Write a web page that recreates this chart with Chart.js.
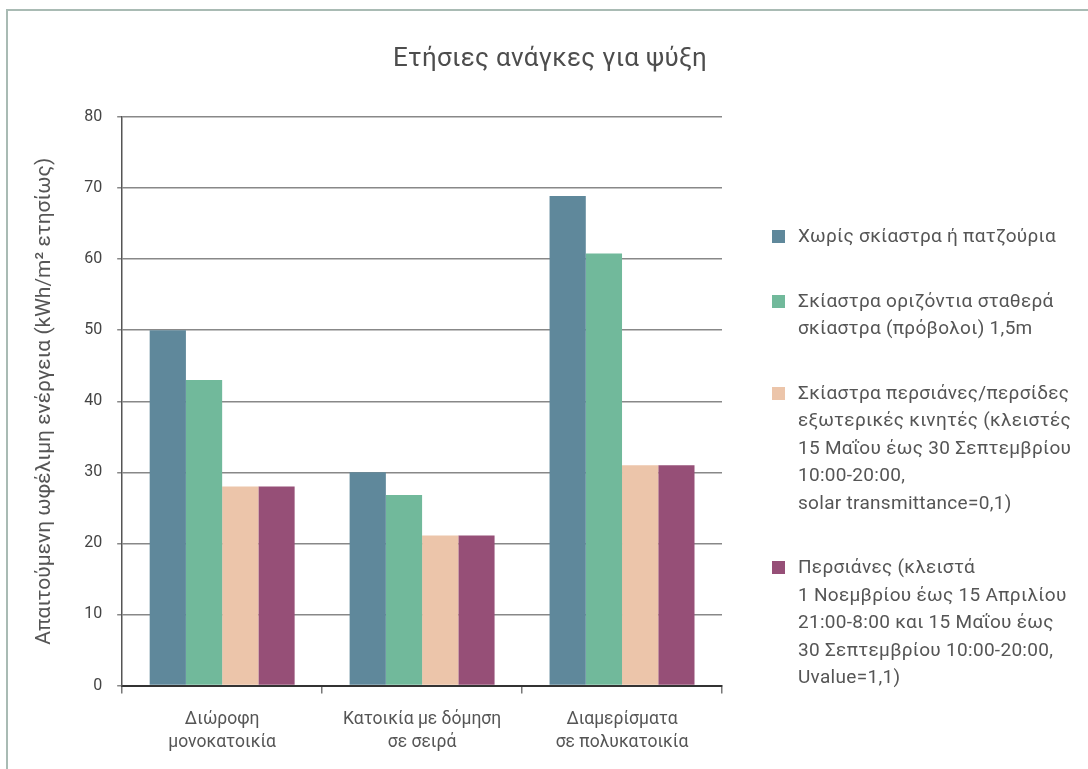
<!DOCTYPE html>
<html lang="el">
<head>
  <meta charset="UTF-8" />
  <title>Ετήσιες ανάγκες για ψύξη</title>
  <style>
    html, body {
      margin: 0;
      padding: 0;
      background: #fff;
    }

    .wrap {
      position: relative;
      width: 1088px;
      height: 769px;
      font-family: Roboto, "DejaVu Sans", sans-serif;
    }

    .frame {
      position: absolute;
      left: 6px;
      top: 9px;
      right: 0;
      bottom: 0;
      border-top: 2px solid #a9bbb4;
      border-left: 2px solid #a9bbb4;
    }

    canvas {
      position: absolute;
      left: 0;
      top: 0;
    }

    #title {
      position: absolute;
      left: 0;
      width: 1100px;
      top: 40px;
      text-align: center;
      color: #4d4d4d;
      font-size: 26px;
      line-height: 34px;
      letter-spacing: 0.3px;
    }

    #legend {
      position: absolute;
      left: 772px;
      top: 222px;
      color: #555;
      font-size: 19px;
      line-height: 27.5px;
      letter-spacing: 0.3px;
    }

    .legend-item {
      display: flex;
      align-items: flex-start;
      margin-bottom: 37px;
    }

    .legend-box {
      width: 13px;
      height: 13px;
      margin-top: 8px;
      margin-right: 13px;
      flex: none;
    }
  </style>
</head>
<body>
  <div class="wrap">
    <div class="frame"></div>
    <canvas id="chart" width="1088" height="769"></canvas>
    <div id="title"></div>
    <div id="legend"></div>
  </div>

  <script src="https://cdn.jsdelivr.net/npm/chart.js"></script>
  <script>
    const title = "Ετήσιες ανάγκες για ψύξη";
    const yTitle = "Απαιτούμενη ωφέλιμη ενέργεια (kWh/m² ετησίως)";

    const categories = [
      ["Διώροφη", "μονοκατοικία"],
      ["Κατοικία με δόμηση", "σε σειρά"],
      ["Διαμερίσματα", "σε πολυκατοικία"]
    ];

    const seriesNames = [
      ["Χωρίς σκίαστρα ή πατζούρια"],
      ["Σκίαστρα οριζόντια σταθερά", "σκίαστρα (πρόβολοι) 1,5m"],
      ["Σκίαστρα περσιάνες/περσίδες", "εξωτερικές κινητές (κλειστές", "15 Μαΐου έως 30 Σεπτεμβρίου", "10:00-20:00,", "solar transmittance=0,1)"],
      ["Περσιάνες (κλειστά", "1 Νοεμβρίου έως 15 Απριλίου", "21:00-8:00 και 15 Μαΐου έως", "30 Σεπτεμβρίου 10:00-20:00,", "Uvalue=1,1)"]
    ];

    const noShading = [50, 30, 68.9];
    const fixedShades = [43, 26.8, 60.8];
    const movableBlinds = [28, 21.1, 31];
    const shutters = [28, 21.1, 31];

    const colors = ["#5f889b", "#71b99b", "#ecc5aa", "#964f77"];
    const yTicks = [0, 10, 20, 30, 40, 50, 60, 70, 80];

    const values = [noShading, fixedShades, movableBlinds, shutters];

    document.getElementById("title").textContent = title;

    new Chart(document.getElementById("chart"), {
      type: "bar",
      data: {
        labels: categories,
        datasets: values.map((v, i) => ({
          label: seriesNames[i].join(" "),
          data: v,
          backgroundColor: colors[i],
          borderWidth: 0,
          categoryPercentage: 0.725,
          barPercentage: 1.0
        }))
      },
      options: {
        responsive: false,
        animation: false,
        layout: {
          padding: { top: 117, right: 366, bottom: 0, left: 32 }
        },
        plugins: {
          legend: { display: false },
          tooltip: { enabled: false }
        },
        scales: {
          x: {
            grid: {
              offset: true,
              drawOnChartArea: false,
              drawTicks: true,
              tickLength: 8,
              color: "#777",
              lineWidth: 1.5
            },
            border: { color: "#333", width: 2 },
            ticks: {
              color: "#555",
              padding: 15,
              font: { family: "Roboto", size: 17.5, lineHeight: 1.3 }
            }
          },
          y: {
            min: 0,
            max: 80,
            afterBuildTicks: axis => {
              axis.ticks = yTicks.map(v => ({ value: v }));
            },
            grid: {
              color: "#888",
              lineWidth: 1.5,
              tickLength: 5
            },
            border: { color: "#555", width: 1.5 },
            ticks: {
              color: "#444",
              padding: 15,
              font: { family: "Roboto", size: 16 }
            },
            title: {
              display: true,
              text: yTitle,
              color: "#555",
              font: { family: "Roboto", size: 21 },
              padding: { top: 0, bottom: 12 }
            }
          }
        }
      }
    });

    // html legend
    const legendEl = document.getElementById("legend");
    seriesNames.forEach((lines, i) => {
      const item = document.createElement("div");
      item.className = "legend-item";
      item.innerHTML = `<span class="legend-box" style="background:${colors[i]}"></span><span>${lines.join("<br>")}</span>`;
      legendEl.appendChild(item);
    });
  </script>
</body>
</html>
